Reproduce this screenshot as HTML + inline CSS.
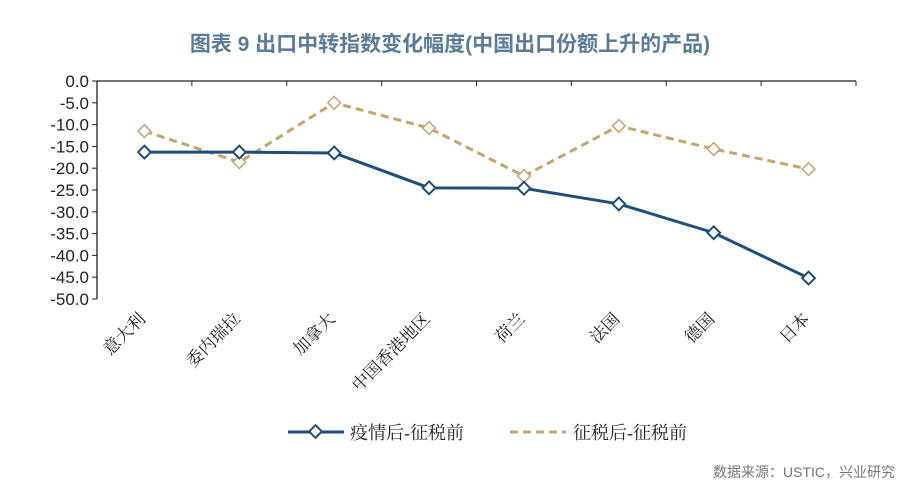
<!DOCTYPE html>
<html><head><meta charset="utf-8"><style>
body{margin:0;background:#fff;}
svg text{font-family:"Liberation Sans","Noto Sans CJK SC",sans-serif;}
svg text.cjk{font-family:"Liberation Serif","Noto Serif CJK SC",serif;}
</style></head><body>
<svg width="900" height="498" viewBox="0 0 900 498">
<text x="450" y="51" text-anchor="middle" font-size="21" font-weight="bold" fill="#5b7b98">图表 9 出口中转指数变化幅度(中国出口份额上升的产品)</text>
<g id="axes"></g>
<g id="marks"></g>
<g>
<g>
<line x1="288" y1="432" x2="344" y2="432" stroke="#1f4e79" stroke-width="3"/>
<rect x="311" y="427" width="9" height="9" transform="rotate(45 315.5 431.5)" fill="#fff" stroke="#1f4e79" stroke-width="2"/>
<text class="cjk" x="350" y="439" font-size="18" fill="#222">疫情后-征税前</text></g>
<g>
<line x1="510" y1="432" x2="566" y2="432" stroke="#c4a572" stroke-width="3" stroke-dasharray="8,5"/>
<text class="cjk" x="573" y="439" font-size="18" fill="#222">征税后-征税前</text></g>
</g>
<text x="895" y="477" text-anchor="end" font-size="14" fill="#777">数据来源：USTIC，兴业研究</text>
</svg>
<script>
const categories=["意大利","委内瑞拉","加拿大","中国香港地区","荷兰","法国","德国","日本"];
const afterCovid=[-16.3,-16.3,-16.5,-24.5,-24.6,-28.2,-34.8,-45.2];
const afterTariff=[-11.5,-18.6,-5.0,-10.8,-21.8,-10.3,-15.6,-20.2];
const yTicks=[0,-5,-10,-15,-20,-25,-30,-35,-40,-45,-50];
const NS="http://www.w3.org/2000/svg";
const L=97,R=856,T=81,B=299;
const step=(R-L)/categories.length;
const x=i=>L+step*(i+0.5);
const y=v=>T+(0-v)/50*(B-T);
function mk(tag,attrs,parent){const e=document.createElementNS(NS,tag);for(const k in attrs)e.setAttribute(k,attrs[k]);parent.appendChild(e);return e;}
const ax=document.getElementById('axes'),mg=document.getElementById('marks');
let a=mk('line',{x1:L,y1:T,x2:R,y2:T,stroke:'#222','stroke-width':1.3},ax);


a=mk('line',{x1:L,y1:T,x2:L,y2:B,stroke:'#222','stroke-width':1.3},ax);


for(let i=0;i<=categories.length;i++){mk('line',{x1:L+step*i,y1:T,x2:L+step*i,y2:T+5,stroke:'#222'},ax);}
yTicks.forEach(v=>{
 mk('line',{x1:L-5,y1:y(v),x2:L,y2:y(v),stroke:'#222'},ax);
 const t=mk('text',{x:L-8,y:y(v)+6,'text-anchor':'end','font-size':17,fill:'#222'},ax);
 t.textContent=v===0?'0.0':v.toFixed(1);
 
 
});
categories.forEach((c,i)=>{
 const px=x(i)+2,py=320;
 const t=mk('text',{class:'cjk',x:px,y:py,'text-anchor':'end','font-size':17,fill:'#222',transform:`rotate(-45 ${px} ${py})`},ax);
 t.textContent=c;
 
 
});
function series(vals,color,dash,name,diamond){
 const p=mk('polyline',{points:vals.map((v,i)=>x(i)+','+y(v)).join(' '),fill:'none',stroke:color,'stroke-width':3,'stroke-dasharray':dash},mg);
 
 
 vals.forEach((v,i)=>{
  const r=mk('rect',{x:x(i)-4.5,y:y(v)-4.5,width:9,height:9,transform:`rotate(45 ${x(i)} ${y(v)})`,fill:'#fff',stroke:color,'stroke-width':diamond?2:1.5},mg);
  
  
 });
}
series(afterTariff,'#c4a572','8,5','after-tariff',false);
series(afterCovid,'#1f4e79','none','after-covid',true);
</script>
</body></html>
